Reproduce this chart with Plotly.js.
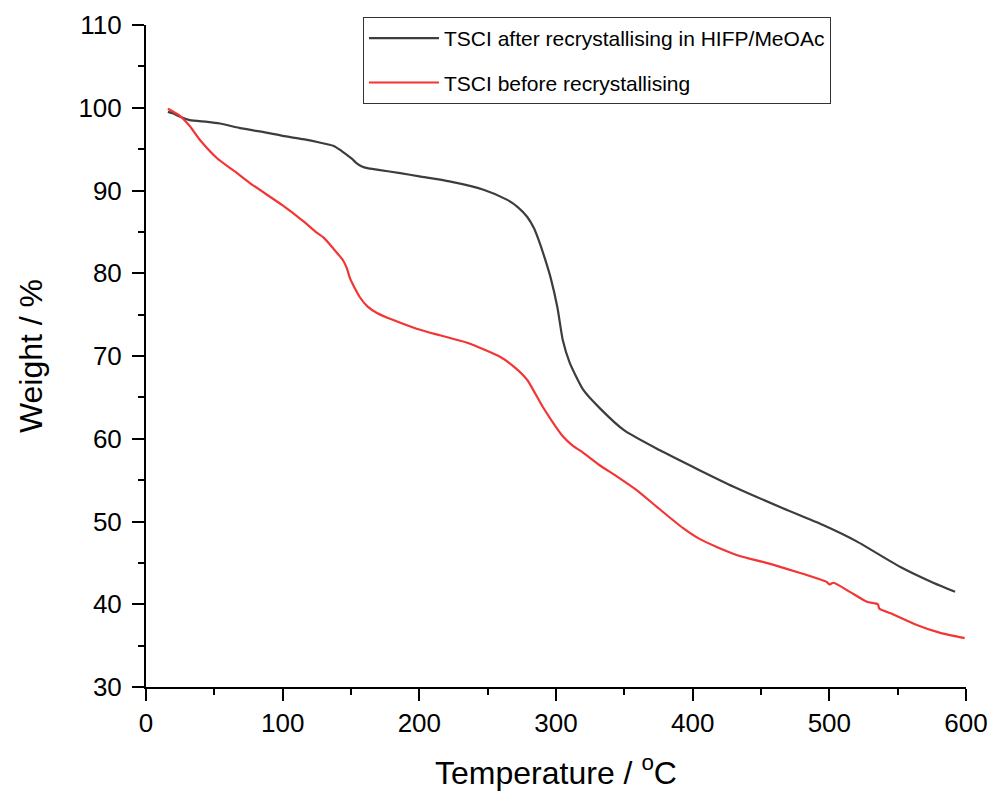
<!DOCTYPE html>
<html>
<head>
<meta charset="utf-8">
<script src="https://cdn.plot.ly/plotly-3.0.1.min.js"></script>
<style>html,body{margin:0;padding:0;background:#fff;}#chart{width:995px;height:796px;}</style>
</head>
<body>
<div id="chart"></div>
<script>
// Series: TSCI after recrystallising in HIFP/MeOAc
const afterName = "TSCI after recrystallising in HIFP/MeOAc";
const afterTemp = [16, 20, 25, 32, 45, 54, 70, 88, 100, 115, 127, 137, 142, 147, 151, 154, 158, 162, 170, 186, 200, 222, 247, 264, 272, 279, 284, 288, 292, 296, 301, 305, 310, 320, 332, 350, 376, 405, 430, 466, 495, 520, 552, 576, 592];
const afterWeight = [99.5, 99.3, 98.9, 98.5, 98.3, 98.1, 97.5, 97.0, 96.6, 96.2, 95.8, 95.4, 94.9, 94.3, 93.8, 93.3, 92.9, 92.7, 92.5, 92.1, 91.7, 91.1, 90.1, 88.9, 88.0, 86.8, 85.4, 83.7, 81.7, 79.5, 75.9, 71.9, 69.2, 65.9, 63.7, 61.0, 58.6, 56.2, 54.2, 51.6, 49.6, 47.6, 44.5, 42.6, 41.5];

// Series: TSCI before recrystallising
const beforeName = "TSCI before recrystallising";
const beforeTemp = [16, 18, 25, 32, 39.5, 52, 65, 76, 100, 115, 125, 130, 137, 144, 147, 149, 151.5, 156.5, 162, 169, 180, 198, 215, 235, 259, 270, 279, 285, 290.5, 298, 305, 312, 320, 332, 345, 359, 375, 393, 405, 418, 435, 454, 498, 500, 503, 515, 527.5, 535.5, 536.5, 545, 564, 580, 599];
const beforeWeight = [99.9, 99.7, 99.0, 97.8, 96.1, 93.9, 92.3, 90.9, 88.2, 86.3, 84.9, 84.3, 83.0, 81.6, 80.6, 79.5, 78.6, 77.1, 76.0, 75.2, 74.4, 73.3, 72.5, 71.6, 69.9, 68.6, 67.1, 65.4, 63.8, 61.9, 60.3, 59.2, 58.3, 56.8, 55.4, 53.8, 51.6, 49.2, 47.9, 46.9, 45.8, 45.0, 42.7, 42.4, 42.6, 41.5, 40.3, 40.0, 39.5, 38.9, 37.5, 36.6, 35.9];

// Axis settings
const xTitle = "Temperature / <sup>o</sup>C";
const yTitle = "Weight / %";
const xRange = [0, 600];
const yRange = [30, 110];

const FONT = "Liberation Sans, Arial, sans-serif";

const traces = [
  {x: afterTemp, y: afterWeight, name: afterName, type: 'scatter', mode: 'lines',
   line: {color: '#3d3d3d', width: 2.2, shape: 'spline', smoothing: 0.6}, legendgroup: 'a'},
  {x: beforeTemp, y: beforeWeight, name: beforeName, type: 'scatter', mode: 'lines',
   line: {color: '#f23535', width: 2.2, shape: 'spline', smoothing: 0.6}, legendgroup: 'b'}
];

const axisCommon = {
  showgrid: false, zeroline: false, showline: true, linecolor: '#000', linewidth: 2,
  ticks: 'outside', ticklen: 12, tickwidth: 2, tickcolor: '#000',
  tickfont: {family: FONT, size: 26, color: '#000'},
  mirror: false, automargin: false
};

const layout = {
  width: 995, height: 796,
  margin: {l: 146, r: 29, t: 25, b: 109, pad: 0},
  paper_bgcolor: '#fff', plot_bgcolor: '#fff',
  font: {family: FONT, color: '#000'},
  showlegend: true,
  legend: {
    x: 0.2646, y: 1.012, xanchor: 'left', yanchor: 'top',
    bordercolor: '#333', borderwidth: 1, bgcolor: '#fff',
    font: {family: FONT, size: 21, color: '#000'},
    tracegroupgap: 14, traceorder: 'grouped', itemwidth: 70
  },
  xaxis: Object.assign({}, axisCommon, {
    range: xRange, dtick: 100, tick0: 0,
    minor: {ticks: 'outside', ticklen: 6, tickwidth: 2, tickcolor: '#000', dtick: 50, showgrid: false},
    title: {text: xTitle, font: {family: FONT, size: 32, color: '#000'}, standoff: 24}
  }),
  yaxis: Object.assign({}, axisCommon, {
    range: yRange, dtick: 10, tick0: 30, ticklabelstandoff: 5,
    minor: {ticks: 'outside', ticklen: 6, tickwidth: 2, tickcolor: '#000', dtick: 5, showgrid: false},
    title: {text: yTitle, font: {family: FONT, size: 32, color: '#000'}, standoff: 26}
  })
};

Plotly.newPlot('chart', traces, layout, {displayModeBar: false, staticPlot: true});
</script>
</body>
</html>
